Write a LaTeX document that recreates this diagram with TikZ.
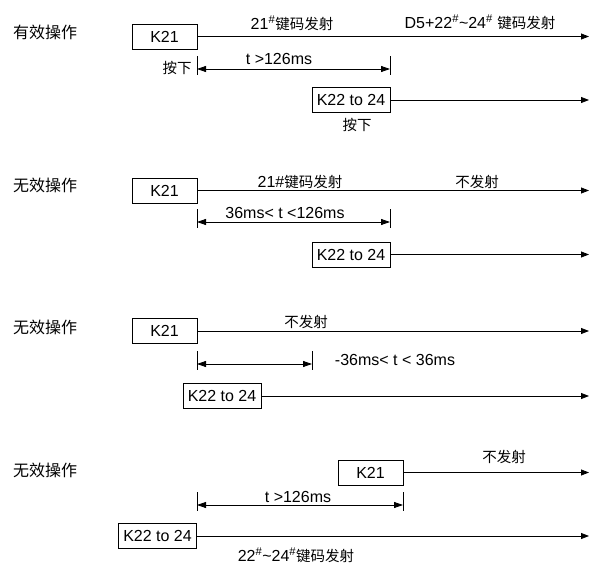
\documentclass[tikz,border=0pt]{standalone}
\usepackage{fontspec}
\setmainfont{Liberation Sans}
\newfontfamily\cjk{Noto Sans CJK SC}
\usetikzlibrary{arrows.meta,positioning,calc}
\newcommand{\cn}[1]{{\cjk\fontsize{14.5}{16}\selectfont #1}}
\newcommand{\hsh}{\textsuperscript{\#}}
\newcommand{\timespan}[4]{
  % #1 name, #2 left x, #3 right x, #4 y of the arrow
  \coordinate (#1L) at (#2,#4);
  \coordinate (#1R) at (#3,#4);
  \draw ($(#1L)+(0,-13)$) -- ($(#1L)+(0,6)$);
  \draw ($(#1R)+(0,-13)$) -- ($(#1R)+(0,6)$);
  \draw[span] (#1L) -- (#1R);
}
\tikzstyle{key}=[draw, minimum height=25pt, minimum width=65pt, inner sep=3pt]
\tikzstyle{head}=[font=\cjk\fontsize{16}{18}\selectfont]
\tikzstyle{signal}=[-{Triangle[length=8pt,width=6pt]}]
\tikzstyle{span}=[{Triangle[length=9pt,width=6pt]}-{Triangle[length=9pt,width=6pt]}]
\tikzset{y=-1pt}
\tikzset{x=1pt}

\begin{document}
\begin{tikzpicture}[line width=.8pt, font=\fontsize{16}{18}\selectfont]
  \useasboundingbox (0,0) rectangle (590,565);
  \coordinate (R) at (589,0);

  %% valid operation
  \draw (45,32) node[head] (H1) {有效操作};
  \draw (164.5,36.5) node[key] (A1) {K21};
  \draw[signal] (A1) -- (A1 -| R);
  \draw (292,23) node (L1a) {21\hsh\cn{键码发射}};
  \draw (480,22) node (L1b) {D5+22\hsh\textasciitilde24\hsh\ \cn{键码发射}};
  \timespan{D1}{197}{390}{69}
  \draw (279,59) node (T1) {t >126ms};
  \draw (177,68) node (P1) {\cn{按下}};
  \draw (351,100) node[key,minimum width=78pt] (B1) {K22 to 24};
  \draw[signal] (B1) -- (B1 -| R);
  \draw (357,125) node (P2) {\cn{按下}};

  %% invalid operation 1
  \draw (45,185) node[head] (H2) {无效操作};
  \draw (164.5,190.5) node[key] (A2) {K21};
  \draw[signal] (A2) -- (A2 -| R);
  \draw (300,182) node (L2a) {21\#\cn{键码发射}};
  \draw (477,182) node (L2b) {\cn{不发射}};
  \timespan{D2}{197}{390}{222}
  \draw (285,213) node (T2) {36ms< t <126ms};
  \draw (351,254.5) node[key,minimum width=78pt] (B2) {K22 to 24};
  \draw[signal] (B2) -- (B2 -| R);

  %% invalid operation 2
  \draw (45,327) node[head] (H3) {无效操作};
  \draw (164.5,331) node[key] (A3) {K21};
  \draw[signal] (A3) -- (A3 -| R);
  \draw (306,322) node (L3a) {\cn{不发射}};
  \timespan{D3}{197}{312}{364}
  \draw (395,360) node (T3) {-36ms< t < 36ms};
  \draw (222,396) node[key,minimum width=78pt] (B3) {K22 to 24};
  \draw[signal] (B3) -- (B3 -| R);

  %% invalid operation 3
  \draw (45,470) node[head] (H4) {无效操作};
  \draw (370.5,472.5) node[key] (A4) {K21};
  \draw[signal] (A4) -- (A4 -| R);
  \draw (504,457) node (L4a) {\cn{不发射}};
  \timespan{D4}{197}{403}{505}
  \draw (298,497) node (T4) {t >126ms};
  \draw (157.5,536) node[key,minimum width=78pt] (B4) {K22 to 24};
  \draw[signal] (B4) -- (B4 -| R);
  \draw (296,555) node[inner sep=1pt] (L4b) {22\hsh\textasciitilde24\hsh\cn{键码发射}};
\end{tikzpicture}
\end{document}
